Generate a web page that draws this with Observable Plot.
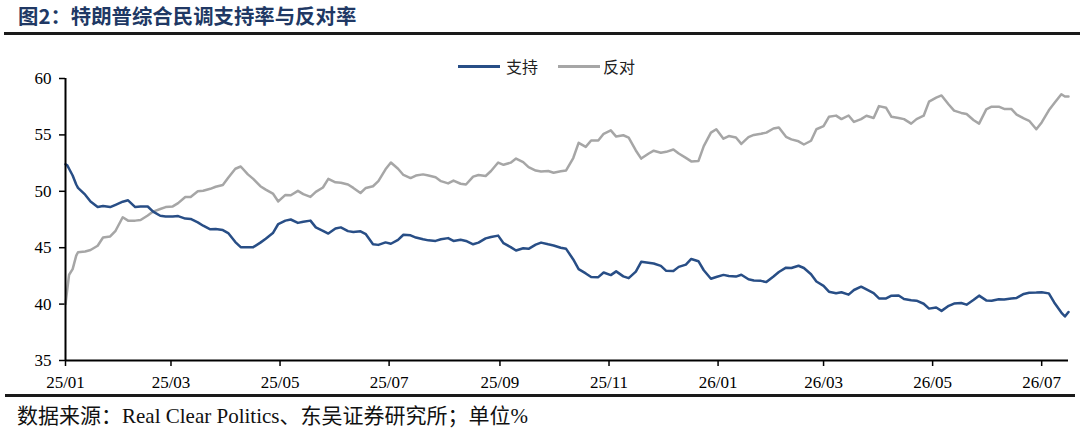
<!DOCTYPE html>
<html>
<head>
<meta charset="utf-8">
<script src="https://cdn.jsdelivr.net/npm/d3@7"></script>
<script src="https://cdn.jsdelivr.net/npm/@observablehq/plot@0.6"></script>
<style>
  html, body { margin:0; padding:0; background:#fff; }
  body { width:1080px; height:429px; position:relative; overflow:hidden; }
  .abs { position:absolute; white-space:nowrap; }
  #title { left:18px; top:5px; font-family:"Noto Sans CJK SC"; font-weight:bold; font-size:20.4px; line-height:20px; color:#203864; }
  #rule1 { left:4px; top:32px; width:1076px; height:2.5px; background:#1a1a1a; }
  #rule2 { left:5px; top:394px; width:1070px; height:3px; background:#1a1a1a; }
  #caption { left:17px; top:404px; font-family:"Noto Sans CJK SC"; font-size:21px; line-height:21px; color:#111; }
  #caption .lat { font-family:"Liberation Serif"; font-size:21px; }
  .lg-line { height:3px; top:64.5px; }
  .lg-text { top:58px; font-family:"Noto Sans CJK SC"; font-size:16px; line-height:16px; color:#222; }
  #chart { left:0; top:40px; }
</style>
</head>
<body>
<div id="title" class="abs">图2：特朗普综合民调支持率与反对率</div>
<div id="rule1" class="abs"></div>
<div class="abs lg-line" style="left:458px;width:42px;background:#284e86"></div>
<div class="abs lg-text" style="left:506px">支持</div>
<div class="abs lg-line" style="left:558px;width:42px;background:#a6a6a6"></div>
<div class="abs lg-text" style="left:603px">反对</div>
<div id="chart" class="abs"></div>
<div id="rule2" class="abs"></div>
<div id="caption" class="abs">数据来源：<span class="lat">Real Clear Politics</span>、东吴证券研究所；单位<span class="lat">%</span></div>
<script>
// Dates of the readings (RCP average), values in percent
const dates = [
  "2025-01-01","2025-01-02","2025-01-03","2025-01-05","2025-01-07","2025-01-08","2025-01-12","2025-01-15","2025-01-19","2025-01-22","2025-01-26","2025-01-29",
  "2025-02-02","2025-02-05","2025-02-09","2025-02-12","2025-02-16","2025-02-19","2025-02-23","2025-02-26",
  "2025-03-02","2025-03-05","2025-03-09","2025-03-12","2025-03-16","2025-03-19","2025-03-23","2025-03-26","2025-03-30",
  "2025-04-02","2025-04-06","2025-04-09","2025-04-13","2025-04-16","2025-04-20","2025-04-23","2025-04-27","2025-04-30",
  "2025-05-04","2025-05-07","2025-05-11","2025-05-14","2025-05-18","2025-05-21","2025-05-25","2025-05-28",
  "2025-06-01","2025-06-04","2025-06-08","2025-06-11","2025-06-15","2025-06-18","2025-06-22","2025-06-25","2025-06-29",
  "2025-07-02","2025-07-06","2025-07-09","2025-07-13","2025-07-16","2025-07-20","2025-07-23","2025-07-27","2025-07-30",
  "2025-08-03","2025-08-06","2025-08-10","2025-08-13","2025-08-17","2025-08-20","2025-08-24","2025-08-27","2025-08-31",
  "2025-09-03","2025-09-07","2025-09-10","2025-09-14","2025-09-17","2025-09-21","2025-09-24","2025-09-28",
  "2025-10-01","2025-10-05","2025-10-08","2025-10-12","2025-10-15","2025-10-19","2025-10-22","2025-10-26","2025-10-29",
  "2025-11-02","2025-11-05","2025-11-09","2025-11-12","2025-11-16","2025-11-19","2025-11-23","2025-11-26","2025-11-30",
  "2025-12-03","2025-12-07","2025-12-10","2025-12-14","2025-12-17","2025-12-21","2025-12-24","2025-12-28","2025-12-31",
  "2026-01-04","2026-01-07","2026-01-11","2026-01-14","2026-01-18","2026-01-21","2026-01-25","2026-01-28",
  "2026-02-01","2026-02-04","2026-02-08","2026-02-11","2026-02-15","2026-02-18","2026-02-22","2026-02-25",
  "2026-03-01","2026-03-04","2026-03-08","2026-03-11","2026-03-15","2026-03-18","2026-03-22","2026-03-25","2026-03-29",
  "2026-04-01","2026-04-05","2026-04-08","2026-04-12","2026-04-15","2026-04-19","2026-04-22","2026-04-26","2026-04-29",
  "2026-05-03","2026-05-06","2026-05-10","2026-05-13","2026-05-17","2026-05-20","2026-05-24","2026-05-27","2026-05-31",
  "2026-06-03","2026-06-07","2026-06-10","2026-06-14","2026-06-17","2026-06-21","2026-06-24","2026-06-28",
  "2026-07-01","2026-07-05","2026-07-08","2026-07-12","2026-07-14","2026-07-15","2026-07-16"
];
const support = [
  52.4,52.3,52.0,51.4,50.6,50.3,49.7,49.1,48.6,48.7,48.6,48.8,
  49.08,49.2,48.6,48.65,48.65,48.2,47.83,47.77,
  47.77,47.8,47.58,47.55,47.24,46.95,46.63,46.65,46.56,
  46.3,45.5,45.05,45.05,45.05,45.45,45.8,46.3,47.1,
  47.4,47.5,47.2,47.3,47.4,46.8,46.5,46.25,
  46.7,46.8,46.47,46.4,46.45,46.2,45.3,45.25,45.47,
  45.35,45.7,46.15,46.1,45.9,45.75,45.65,45.6,45.75,
  45.85,45.6,45.7,45.6,45.3,45.45,45.83,45.95,46.07,
  45.4,45.05,44.75,44.95,44.9,45.27,45.45,45.3,
  45.2,45.0,44.9,43.96,43.1,42.72,42.4,42.39,42.8,
  42.57,42.9,42.46,42.3,42.88,43.75,43.66,43.6,43.39,
  42.95,42.94,43.3,43.5,44.0,43.8,43.0,42.25,42.4,
  42.59,42.5,42.44,42.6,42.2,42.1,42.06,41.95,
  42.45,42.85,43.23,43.2,43.4,43.2,42.65,42.0,
  41.62,41.1,40.97,41.05,40.84,41.25,41.54,41.3,40.97,
  40.5,40.5,40.75,40.77,40.45,40.35,40.3,40.03,39.6,
  39.7,39.4,39.85,40.05,40.1,39.95,40.38,40.75,40.33,
  40.3,40.43,40.4,40.5,40.55,40.9,41.0,41.02,
  41.05,40.95,40.15,39.25,38.9,39.1,39.3
];
const oppose = [
  40.0,41.3,42.6,43.1,44.3,44.6,44.67,44.8,45.17,45.9,46.0,46.5,
  47.7,47.4,47.4,47.45,47.85,48.2,48.43,48.6,
  48.66,48.95,49.5,49.5,50.0,50.05,50.22,50.4,50.56,
  51.2,52.0,52.2,51.5,51.1,50.45,50.15,49.8,49.1,
  49.68,49.65,50.04,49.75,49.5,49.95,50.34,51.1,
  50.8,50.75,50.6,50.3,49.85,50.3,50.45,50.9,51.95,
  52.55,52.0,51.45,51.17,51.4,51.5,51.4,51.24,50.9,
  50.7,50.95,50.67,50.6,51.3,51.45,51.36,51.8,52.55,
  52.35,52.54,52.9,52.58,52.14,51.84,51.75,51.8,
  51.65,51.77,51.85,52.95,54.3,53.94,54.5,54.5,55.1,
  55.4,54.85,54.97,54.76,53.62,52.9,53.33,53.6,53.42,
  53.5,53.71,53.35,52.96,52.65,52.68,54.0,55.2,55.5,
  54.66,54.9,54.77,54.2,54.8,55.0,55.1,55.2,
  55.57,55.65,54.83,54.6,54.43,54.15,54.48,55.5,
  55.77,56.6,56.71,56.4,56.72,56.15,56.4,56.7,56.5,
  57.55,57.4,56.6,56.5,56.4,56.0,56.4,56.7,57.95,
  58.3,58.5,57.7,57.15,56.95,56.85,56.3,56.0,57.26,
  57.5,57.5,57.3,57.3,56.8,56.46,56.25,55.5,
  56.1,57.18,57.8,58.6,58.4,58.4,58.4
];
const xTicks = ["2025-01-01","2025-03-01","2025-05-01","2025-07-01","2025-09-01","2025-11-01",
                "2026-01-01","2026-03-01","2026-05-01","2026-07-01"];
const yTicks = [35,40,45,50,55,60];
const xDomain = ["2025-01-01","2026-07-16"];
const yDomain = [35,60];

if (dates.length !== support.length || dates.length !== oppose.length) {
  throw new Error("length mismatch " + dates.length + " " + support.length + " " + oppose.length);
}
const table = dates.map((d, i) => ({date: new Date(d), support: support[i], oppose: oppose[i]}));
const x0 = new Date(xDomain[0]);

const chart = Plot.plot({
  width: 1080,
  height: 355,
  marginLeft: 65,
  marginRight: 12,
  marginTop: 38,
  marginBottom: 35,
  x: {type: "utc", domain: xDomain.map(d => new Date(d))},
  y: {domain: yDomain},
  style: {fontFamily: "Liberation Serif", fontSize: "17px", color: "#000", background: "transparent"},
  marks: [
    Plot.axisY({ticks: yTicks, tickSize: 6, tickPadding: 8, stroke: "#000", strokeWidth: 1.5, label: null, fontSize: 17, fill: "#000"}),
    Plot.axisX({ticks: xTicks.map(d => new Date(d)), tickFormat: d3.utcFormat("%y/%m"), tickSize: 6, tickPadding: 9, stroke: "#000", strokeWidth: 1.5, label: null, fontSize: 17, fill: "#000"}),
    Plot.lineY(table, {x: "date", y: "oppose", stroke: "#a6a6a6", strokeWidth: 2.5}),
    Plot.lineY(table, {x: "date", y: "support", stroke: "#284e86", strokeWidth: 2.5}),
    Plot.ruleX([x0], {stroke: "#000", strokeWidth: 2}),
    Plot.ruleY([yDomain[0]], {stroke: "#000", strokeWidth: 2})
  ]
});
document.getElementById("chart").appendChild(chart);
</script>
</body>
</html>
